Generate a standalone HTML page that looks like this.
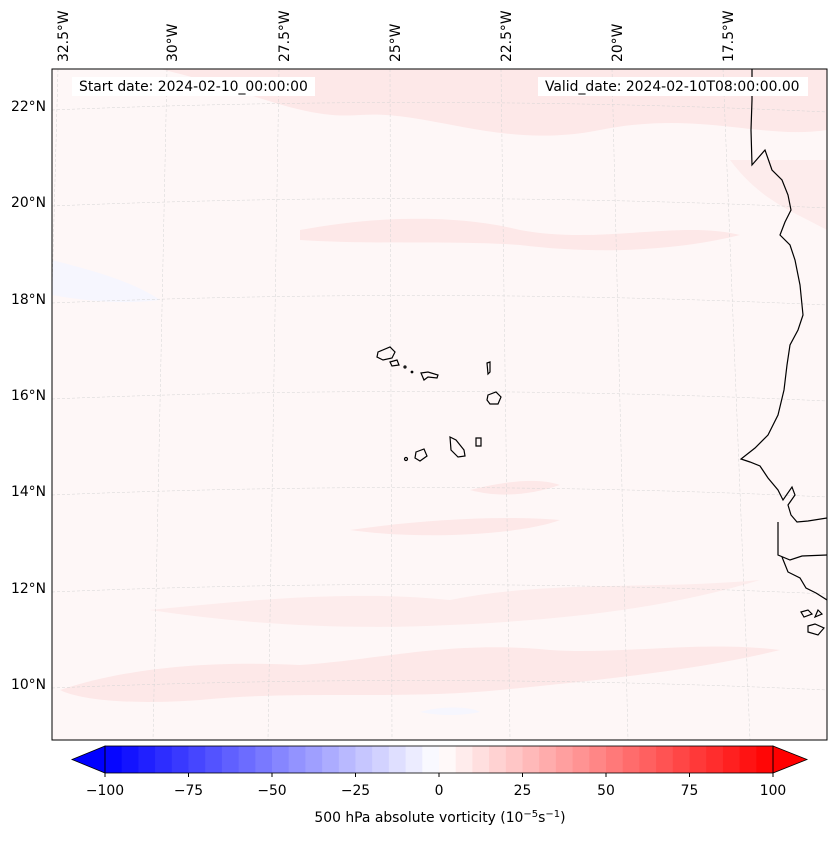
<!DOCTYPE html>
<html><head><meta charset="utf-8"><style>
body{margin:0;background:#fff;font-family:"Liberation Sans","DejaVu Sans",sans-serif;}
svg text{font-family:"DejaVu Sans","Liberation Sans",sans-serif;font-size:13.9px;fill:#000;}
</style></head><body>
<svg id="fig" width="837" height="839" viewBox="0 0 837 839">
<defs><clipPath id="mapclip"><rect x="52" y="69" width="775" height="671"/></clipPath></defs>
<g clip-path="url(#mapclip)">
<rect x="52" y="69" width="775" height="671" fill="#fef7f7"/>
<g fill="#fde8e8">
<path d="M160 69 C250 90 300 120 360 115 C430 110 500 150 600 130 C700 110 760 140 827 130 L827 69 Z"/>
<path d="M300 230 C380 215 460 215 520 230 C600 245 680 220 740 235 C680 250 600 255 520 245 C450 240 380 245 300 240 Z"/>
<path d="M60 690 C120 670 200 660 300 665 C380 660 450 640 550 650 C620 655 700 640 780 650 C700 670 600 680 500 690 C400 700 300 690 200 700 C130 705 80 700 60 690 Z"/>
<path d="M150 610 C250 600 350 590 450 600 C550 580 650 590 760 580 C660 610 560 620 450 625 C350 630 250 625 150 610 Z" fill="#fdecec"/>
<path d="M350 530 C420 520 500 515 560 520 C520 535 420 540 350 530 Z"/>
<path d="M470 490 C510 480 540 478 560 485 C530 495 500 498 470 490 Z"/>
<path d="M730 160 C760 200 790 210 827 230 L827 160 Z" fill="#fdecec"/>
</g>
<path d="M52 260 C90 270 130 280 160 300 C120 305 80 300 52 295 Z" fill="#f6f6fe"/>
<path d="M420 712 C440 706 470 706 480 712 C460 716 440 716 420 712 Z" fill="#f6f6fe"/>
<g stroke="#d4d4d4" stroke-width="0.5" stroke-dasharray="3,2" fill="none" id="grid"></g>
<g fill="none" stroke="#000" stroke-width="1.2">
<path d="M752 69 L752 100 L751 130 L752 165 L765 150 L772 170 L782 180 L788 195 L791 210 L785 222 L780 235 L790 245 L795 260 L800 285 L803 315 L798 330 L790 345 L787 365 L784 390 L778 415 L768 435 L755 448 L741 459 L750 462 L760 466 L768 478 L778 490 L783 500 L792 487 L795 495 L788 505 L791 515 L797 522 L808 521 L827 518"/>
<path d="M778 522 L778 555 L790 560 L802 556 L827 555"/>
<path d="M782 557 L788 572 L800 578 L806 588 L816 593 L827 600"/>
<path d="M801 612 L808 610 L812 614 L804 617 Z M818 610 L822 614 L815 617 Z M808 626 L815 624 L824 628 L818 635 L808 632 Z"/>
</g>
<g fill="none" stroke="#000" stroke-width="1.2">
<path d="M378 352 L390 347 L395 352 L392 358 L383 360 L377 357 Z"/>
<path d="M390 362 L397 360 L399 365 L392 366 Z"/>
<circle cx="405" cy="367" r="1"/><circle cx="412" cy="372" r="0.8"/>
<path d="M421 373 L428 372 L438 375 L437 378 L428 377 L424 380 Z"/>
<path d="M487 363 L490 362 L490 372 L488 374 Z"/>
<path d="M488 395 L496 392 L501 397 L498 404 L490 404 L487 400 Z"/>
<path d="M450 437 L456 440 L464 450 L465 456 L458 457 L451 450 Z"/>
<path d="M476 438 L481 438 L481 446 L476 446 Z"/>
<path d="M416 452 L424 449 L427 456 L420 461 L415 458 Z"/>
<circle cx="406" cy="459" r="1.5"/>
</g>
</g>
<rect x="52" y="69" width="775" height="671" fill="none" stroke="#000" stroke-width="1"/>
<rect x="72" y="77" width="243" height="19" fill="#fff"/>
<text x="79" y="91">Start date: 2024-02-10_00:00:00</text>
<rect x="538" y="77" width="270" height="19" fill="#fff"/>
<text x="545" y="91">Valid_date: 2024-02-10T08:00:00.00</text>
<g id="lonlabels"></g>
<g id="latlabels"></g>
<g id="cbar"></g>
<text x="440" y="822" text-anchor="middle">500 hPa absolute vorticity (10<tspan font-size="10" dy="-5">−5</tspan><tspan dy="5">s</tspan><tspan font-size="10" dy="-5">−1</tspan><tspan dy="5">)</tspan></text>
</svg>
<script>
const lonLabels=["32.5°W","30°W","27.5°W","25°W","22.5°W","20°W","17.5°W"];
const lonTopX=[63,172,284,395,506,617,728];
const latLabels=["22°N","20°N","18°N","16°N","14°N","12°N","10°N"];
const latY=[106,202,299,395,491,588,684];
const cbLevels=[];for(let v=-100;v<=100;v+=5)cbLevels.push(v);
const cbTicks=[-100,-75,-50,-25,0,25,50,75,100];
const NS="http://www.w3.org/2000/svg";
function mk(t,a,p){const e=document.createElementNS(NS,t);for(const k in a)e.setAttribute(k,a[k]);p.appendChild(e);return e;}
const grid=document.getElementById('grid');
const lonBotX=[40,153,268,392,510,628,750];
lonTopX.forEach((x,i)=>{const l=mk('line',{x1:x-5,y1:69,x2:lonBotX[i],y2:740},grid);

});
latY.forEach(y=>{const p=mk('path',{d:`M52 ${y+4} Q440 ${y-12} 827 ${y+6}`},grid);

});
const lg=document.getElementById('lonlabels');
lonLabels.forEach((s,i)=>{const x=lonTopX[i];
const t=mk('text',{x:0,y:0,transform:`translate(${x+5},62) rotate(-90)`},lg);


t.textContent=s;});
const la=document.getElementById('latlabels');
latLabels.forEach((s,i)=>{const t=mk('text',{x:46,y:latY[i]+5,'text-anchor':'end'},la);


t.textContent=s;});
const cb=document.getElementById('cbar');
const x0=105,x1=773,y0=746,y1=773;
const sx=v=>x0+(v+100)/200*(x1-x0);
function col(v){let r,g,b;if(v<0){const t=(v+100)/100;r=g=t;b=1;}else{const t=v/100;r=1;g=b=1-t;}
return `rgb(${Math.round(r*255)},${Math.round(g*255)},${Math.round(b*255)})`;}
for(let i=0;i<cbLevels.length-1;i++){const a=cbLevels[i],b=cbLevels[i+1];
const r=mk('rect',{x:sx(a),y:y0,width:sx(b)-sx(a)+0.5,height:y1-y0,fill:col((a+b)/2)},cb);

}
const lt=mk('polygon',{points:`${x0},${y0} 72,${(y0+y1)/2} ${x0},${y1}`,fill:col(-100),stroke:'#000','stroke-width':0.8},cb);


const rt=mk('polygon',{points:`${x1},${y0} 807,${(y0+y1)/2} ${x1},${y1}`,fill:col(100),stroke:'#000','stroke-width':0.8},cb);


const fr=mk('rect',{x:x0,y:y0,width:x1-x0,height:y1-y0,fill:'none',stroke:'#000','stroke-width':0.8},cb);


cbTicks.forEach(v=>{const tk=mk('line',{x1:sx(v),x2:sx(v),y1:y1,y2:y1+4,stroke:'#000'},cb);


const t=mk('text',{x:sx(v),y:795,'text-anchor':'middle'},cb);


t.textContent=v<0?'−'+(-v):String(v);});
</script>
</body></html>
